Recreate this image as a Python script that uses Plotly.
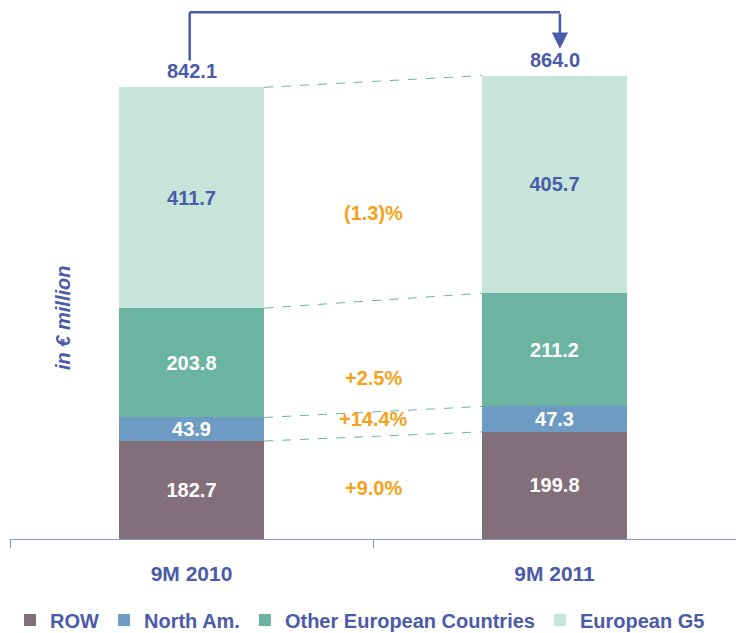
import plotly.graph_objects as go

periods = ["9M 2010", "9M 2011"]
series_names = ["ROW", "North Am.", "Other European Countries", "European G5"]
row = [182.7, 199.8]
north_am = [43.9, 47.3]
other_eu = [203.8, 211.2]
eu_g5 = [411.7, 405.7]
totals = [842.1, 864.0]
growth = ["+9.0%", "+14.4%", "+2.5%", "(1.3)%"]

colors = ["#836F7A", "#6E9BC3", "#6BB4A1", "#C7E4DB"]
label_colors = ["white", "white", "white", "#4B5BA8"]
blue = "#4B5BA8"
orange = "#F7A11A"
font_family = "Liberation Sans, Arial, sans-serif"

values = [row, north_am, other_eu, eu_g5]
bar_w = 0.4

W, H = 736, 633
ML, MR, MT, MB = 10, 0, 8, 94
PW, PH = W - ML - MR, H - MT - MB

fig = go.Figure()
for name, vals, col, lc in zip(series_names, values, colors, label_colors):
    fig.add_trace(go.Bar(
        x=periods, y=vals, name=name, marker=dict(color=col, line=dict(width=0)),
        width=bar_w, text=[f"{v:.1f}" for v in vals], textposition="inside",
        insidetextanchor="middle", textangle=0,
        textfont=dict(color=lc, size=20, family=font_family, weight="bold"),
        hoverinfo="skip",
    ))

cum = [[0, 0]]
for vals in values:
    cum.append([cum[-1][i] + vals[i] for i in range(2)])

shapes = []
for level in cum[1:]:
    shapes.append(dict(type="line", xref="x", yref="y",
                       x0=bar_w / 2, x1=1 - bar_w / 2, y0=level[0], y1=level[1],
                       line=dict(color="#6BB4A1", width=1, dash="dash")))

annotations = []
shifts = [0, 5, -22, -22]
for i, g in enumerate(growth):
    mid = (cum[i][0] + cum[i + 1][0] + cum[i][1] + cum[i + 1][1]) / 4
    annotations.append(dict(x=0.5, y=mid, xref="x", yref="y", text=g, showarrow=False,
                            yshift=shifts[i],
                            font=dict(color=orange, size=20, family=font_family, weight="bold")))
for i, t in enumerate(totals):
    annotations.append(dict(x=i, y=t, xref="x", yref="y", text=f"{t:.1f}", showarrow=False,
                            yanchor="bottom", yshift=3,
                            font=dict(color=blue, size=20, family=font_family, weight="bold")))

off = 50
y_top = 982
shapes.append(dict(type="line", xref="x", yref="y", x0=-0.005, x1=-0.005,
                   y0=totals[0] + off, y1=y_top, line=dict(color=blue, width=2.5)))
shapes.append(dict(type="line", xref="x", yref="y", x0=-0.005, x1=1.015,
                   y0=y_top, y1=y_top, line=dict(color=blue, width=2.5)))
annotations.append(dict(x=1.015, y=totals[1] + off, ax=1.015, ay=y_top, xref="x", yref="y",
                        axref="x", ayref="y", text="", showarrow=True, arrowhead=2,
                        arrowsize=1.3, arrowwidth=2.5, arrowcolor=blue))

annotations.append(dict(x=(63 - ML) / PW, y=(H - MB - 318) / PH, xref="paper", yref="paper",
                        text="<i><b>in € million</b></i>", showarrow=False, textangle=-90,
                        xanchor="center", yanchor="middle",
                        font=dict(color=blue, size=20, family=font_family)))

fig.update_layout(
    barmode="stack",
    width=W, height=H,
    margin=dict(l=ML, r=MR, t=MT, b=MB, autoexpand=False),
    plot_bgcolor="white", paper_bgcolor="white",
    shapes=shapes, annotations=annotations,
    uniformtext=dict(mode="show", minsize=20),
    showlegend=True,
    hovermode=False,
    legend=dict(orientation="h", x=0, xanchor="left", y=(H - MB - 620) / PH, yanchor="middle",
                font=dict(color=blue, size=20, family=font_family, weight="bold"),
                traceorder="normal", itemwidth=30, bgcolor="rgba(0,0,0,0)"),
    xaxis=dict(type="category", range=[-0.5, 1.5], showline=True, linecolor="#8A9AC8",
               linewidth=1, ticks="outside", tickson="boundaries", ticklen=8,
               tickcolor="#8A9AC8", ticklabelstandoff=16,
               tickfont=dict(color=blue, size=21, family=font_family, weight="bold"),
               showgrid=False, zeroline=False),
    yaxis=dict(range=[0, 990], visible=False, showgrid=False, zeroline=False),
)

fig.write_html("out.html", config={"displayModeBar": False},
               post_script="document.body.style.margin='0px';document.body.style.overflow='hidden';")
